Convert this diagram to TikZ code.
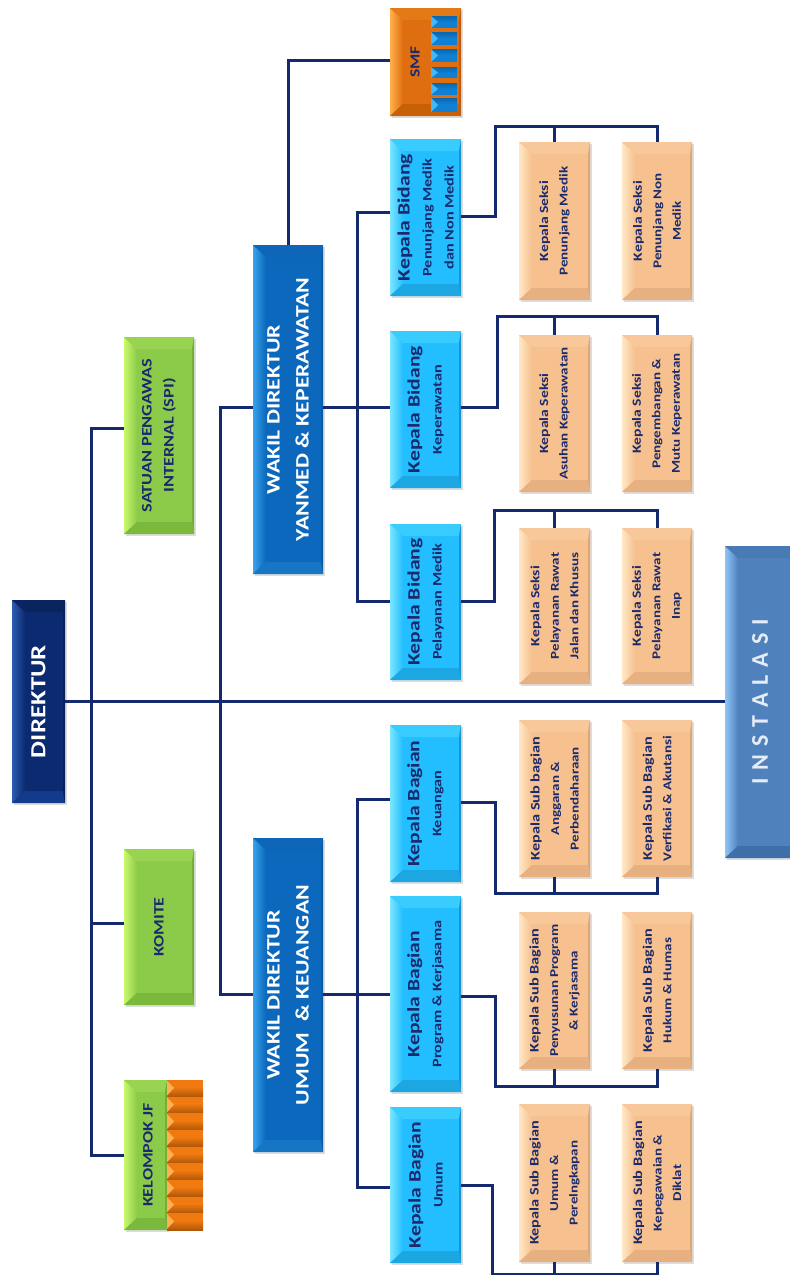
\documentclass[tikz,border=0pt]{standalone}
\usepackage{fontspec}
\setmainfont{Carlito}[FakeStretch=1.25]
\newfontfamily\instfont{Carlito}[WordSpace=1.45]
\definecolor{txt}{HTML}{1A2A6C}
\definecolor{linec}{HTML}{14296E}
\definecolor{shad}{HTML}{DDDDDD}
% schemes: base, top, bottom, light, right
\definecolor{kbase}{HTML}{22BEFF}\definecolor{ktop}{HTML}{38CCFF}\definecolor{kbot}{HTML}{1CA6E2}\definecolor{klig}{HTML}{7BE5FF}\definecolor{krig}{HTML}{1696D0}
\definecolor{wbase}{HTML}{0B68BC}\definecolor{wtop}{HTML}{0D66B8}\definecolor{wbot}{HTML}{1676C4}\definecolor{wlig}{HTML}{38A2EC}\definecolor{wrig}{HTML}{0A5CA8}
\definecolor{dbase}{HTML}{0C2A70}\definecolor{dtop}{HTML}{0A2460}\definecolor{dbot}{HTML}{143A8C}\definecolor{dlig}{HTML}{2C5CB0}\definecolor{drig}{HTML}{0A2058}
\definecolor{gbase}{HTML}{8CCB4A}\definecolor{gtop}{HTML}{98D452}\definecolor{gbot}{HTML}{7AB93C}\definecolor{glig}{HTML}{C8F86C}\definecolor{grig}{HTML}{74AE38}
\definecolor{pbase}{HTML}{F6C08F}\definecolor{ptop}{HTML}{F8C89A}\definecolor{pbot}{HTML}{E6B080}\definecolor{plig}{HTML}{FFE8C4}\definecolor{prig}{HTML}{DDA672}
\definecolor{obase}{HTML}{DE6E10}\definecolor{otop}{HTML}{E47A16}\definecolor{obot}{HTML}{C86008}\definecolor{olig}{HTML}{FFB04A}\definecolor{orig}{HTML}{C05C08}
\definecolor{ibase}{HTML}{4F81BD}\definecolor{itop}{HTML}{4A7AB4}\definecolor{ibot}{HTML}{3F6FA8}\definecolor{ilig}{HTML}{90C4F8}\definecolor{irig}{HTML}{44719F}
\definecolor{tdark}{HTML}{B05608}\definecolor{torange}{HTML}{F07A10}\definecolor{tlight}{HTML}{FFB050}
\definecolor{bdark}{HTML}{0C66AC}\definecolor{bblue}{HTML}{0F80D4}\definecolor{blight}{HTML}{44B8F4}
\newcommand{\fz}[2]{\fontsize{#1}{#2}\selectfont}
\tikzset{
  conn/.style={draw=linec,line width=3pt},
  anch/.style={inner sep=0pt,outer sep=0pt},
  lab/.style={rotate=90,align=center,inner sep=0pt,text=txt,font=\bfseries},
  labw/.style={text=white},
  kl/.style={font=\bfseries\fz{13}{22}},
  sl/.style={font=\bfseries\fz{12}{19.5}},
}
\newcommand{\bev}[8][]{% [label style] name x0 y0 x1 y1 scheme text
  \fill[shad] (#3+1.5,#4+1.5) rectangle (#5+1.5,#6+1.5);
  \fill[#7base] (#3,#4) rectangle (#5,#6);
  \shade[left color=#7lig,right color=#7base] (#3,#4) -- (#3+13,#4+12) -- (#3+13,#6-12) -- (#3,#6) -- cycle;
  \fill[#7top] (#3,#4) -- (#5,#4) -- (#5-2,#4+12) -- (#3+13,#4+12) -- cycle;
  \fill[#7bot] (#3,#6) -- (#5,#6) -- (#5-2,#6-12) -- (#3+13,#6-12) -- cycle;
  \fill[#7rig] (#5,#4) -- (#5-2,#4+12) -- (#5-2,#6-12) -- (#5,#6) -- cycle;
  \node[anch,minimum width={(#5-#3)*1pt},minimum height={(#6-#4)*1pt}] (#2) at ({(#3+#5)/2},{(#4+#6)/2}) {};
  \node[lab,#1] (#2t) at (#2) {#8};
}
\newcommand{\otile}[1]{% orange tile starting at y
  \fill[torange] (167,#1) rectangle (203,#1+16.6);
  \shade[top color=torange,bottom color=tdark] (167,#1+7) rectangle (203,#1+16.6);
  \fill[tlight] (167,#1+0.5) -- (174,#1+8) -- (167,#1+15.5) -- cycle;
}
\newcommand{\btile}[2]{% blue tile y0 y1
  \fill[bblue] (431,#1) rectangle (457,#2);
  \shade[top color=bdark,bottom color=bblue] (431,#1) rectangle (457,#1+6);
  \fill[blight] (431,#1) -- (438,{(#1+#2)/2}) -- (431,#2) -- cycle;
}
\begin{document}
\begin{tikzpicture}[x=1pt,y=-1pt]
\useasboundingbox (0,0) rectangle (790,1275);
\fill[white] (0,0) rectangle (790,1275);

% top
\bev[labw,font=\bfseries\fz{21.5}{22}]{dir}{12}{600}{65}{803}{d}{DIREKTUR}
\bev[font=\bfseries\fz{14.6}{22}]{spi}{124}{337}{194}{534}{g}{SATUAN PENGAWAS\\INTERNAL (SPI)}
\bev[font=\bfseries\fz{14.4}{22}]{kom}{124}{849}{194}{1005}{g}{KOMITE}
\bev[yshift=-2.5pt,font=\bfseries\fz{14.4}{22}]{kel}{124}{1080}{167}{1230}{g}{KELOMPOK JF}
\foreach \yy in {1080,1096.7,1113.4,1130,1146.7,1163.4,1180,1196.7,1213.4}{\otile{\yy}}

% wakil
\bev[labw,font=\bfseries\fz{19}{29}]{yan}{253}{245}{323}{574}{w}{WAKIL DIREKTUR\\YANMED \& KEPERAWATAN}
\bev[labw,font=\bfseries\fz{19}{29}]{uan}{253}{838}{323}{1152}{w}{WAKIL DIREKTUR\\UMUM \ \& KEUANGAN}

% kepala row
\bev[yshift=10.5pt,font=\bfseries\fz{14}{20}]{smf}{390}{8}{461}{116}{o}{SMF}
\btile{16}{28}\btile{32}{45}\btile{49}{62}\btile{67}{78}\btile{83}{95}\btile{98}{112}
\newcommand{\kt}{\fz{17.3}{22}}
\bev[kl]{kb1}{390}{139}{461}{296}{k}{\kt Kepala Bidang\\Penunjang Medik\\dan Non Medik}
\bev[kl]{kb2}{390}{331}{461}{488}{k}{\kt Kepala Bidang\\Keperawatan}
\bev[kl]{kb3}{390}{524}{461}{680}{k}{\kt Kepala Bidang\\Pelayanan Medik}
\bev[kl]{kb4}{390}{725}{461}{882}{k}{\kt Kepala Bagian\\Keuangan}
\bev[kl]{kb5}{390}{896}{461}{1092}{k}{\kt Kepala Bagian\\Program \& Kerjasama}
\bev[kl]{kb6}{390}{1107}{461}{1263}{k}{\kt Kepala Bagian\\Umum}

% seksi
\newcommand{\st}{\fz{12.5}{19.5}}
\newcommand{\sbt}{\fz{13}{19.5}}
\bev[sl]{s11}{519}{142}{590}{300}{p}{\st Kepala Seksi\\Penunjang Medik}
\bev[sl]{s12}{622}{142}{692}{300}{p}{\st Kepala Seksi\\Penunjang Non\\Medik}
\bev[sl]{s21}{519}{335}{590}{492}{p}{\st Kepala Seksi\\Asuhan Keperawatan}
\bev[sl]{s22}{622}{335}{692}{492}{p}{\st Kepala Seksi\\Pengembangan \&\\Mutu Keperawatan}
\bev[sl]{s31}{519}{528}{590}{684}{p}{\st Kepala Seksi\\Pelayanan Rawat\\Jalan dan Khusus}
\bev[sl]{s32}{622}{528}{692}{684}{p}{\st Kepala Seksi\\Pelayanan Rawat\\Inap}
\bev[sl]{s41}{519}{720}{590}{877}{p}{\sbt Kepala Sub bagian\\Anggaran \&\\Perbendaharaan}
\bev[sl]{s42}{622}{720}{692}{877}{p}{\sbt Kepala Sub Bagian\\Verfikasi \& Akutansi}
\bev[sl]{s51}{519}{912}{590}{1069}{p}{\sbt Kepala Sub Bagian\\Penyusunan Program\\\& Kerjasama}
\bev[sl]{s52}{622}{912}{692}{1069}{p}{\sbt Kepala Sub Bagian\\Hukum \& Humas}
\bev[sl]{s61}{519}{1104}{590}{1262}{p}{\sbt Kepala Sub Bagian\\Umum \&\\Perelngkapan}
\bev[sl]{s62}{622}{1104}{692}{1262}{p}{\sbt Kepala Sub Bagian\\Kepegawaian \&\\Diklat}

% instalasi
\bev[yshift=-1.5pt,text=white!85!ibase,font=\instfont\bfseries\fz{24}{30}]{ins}{725}{546}{792}{858}{i}{I N S T A L A S I}

% coordinates
\coordinate (a1) at (91,428);
\coordinate (a2) at (91,1155);
\coordinate (a3) at (220,407);
\coordinate (a4) at (220,994);
\coordinate (b1) at (357,212);
\coordinate (b2) at (357,601);
\coordinate (b3) at (357,799);
\coordinate (b4) at (357,1187);
\coordinate (c1) at (288,60);
\coordinate (e1) at (495,126);
\coordinate (e2) at (497,316);
\coordinate (e3) at (494,510);
\coordinate (e4) at (495,893);
\coordinate (e5) at (495,1086);
\coordinate (e6) at (492,1274);

% connectors
\draw[conn] (dir.east) -- ([yshift=.5pt]ins.west);
\draw[conn] ([yshift=7.5pt]spi.west) -- (a1) -- (a2) -- (kel.west);
\draw[conn] ([yshift=4pt]kom.west -| a1) -- ([yshift=4pt]kom.west);
\draw[conn] ([yshift=2.5pt]yan.west) -- (a3) -- (a4) -- ([yshift=1pt]uan.west);
\draw[conn] ([yshift=2.5pt]yan.east) -- ([yshift=2.5pt]kb2.west);
\draw[conn] ([yshift=1pt]uan.east) -- (kb5.west);
\draw[conn] (yan.north) -- (c1) -- ([yshift=2pt]smf.west);
\draw[conn] ([yshift=5.5pt]kb1.west) -- (b1) -- (b2) -- ([yshift=1pt]kb3.west);
\draw[conn] ([yshift=4.5pt]kb4.west) -- (b3) -- (b4) -- ([yshift=-2pt]kb6.west);
% kepala -> seksi
\draw[conn] ([yshift=1.5pt]kb1.east) -| (e1) -- (e1 -| s12.north) -- (s12.north);
\draw[conn] (e1 -| s11.north) -- (s11.north);
\draw[conn] ([yshift=2.5pt]kb2.east) -| (e2) -- (e2 -| s22.north) -- (s22.north);
\draw[conn] (e2 -| s21.north) -- (s21.north);
\draw[conn] ([yshift=1pt]kb3.east) -| (e3) -- (e3 -| s32.north) -- (s32.north);
\draw[conn] (e3 -| s31.north) -- (s31.north);
\draw[conn] ([yshift=1pt]kb4.east) -| (e4) -- (e4 -| s42.south) -- (s42.south);
\draw[conn] (e4 -| s41.south) -- (s41.south);
\draw[conn] ([yshift=-2pt]kb5.east) -| (e5) -- (e5 -| s52.south) -- (s52.south);
\draw[conn] (e5 -| s51.south) -- (s51.south);
\draw[conn] (kb6.east) -| (e6) -- (e6 -| s62.south) -- (s62.south);
\draw[conn] (e6 -| s61.south) -- (s61.south);
\end{tikzpicture}
\end{document}
